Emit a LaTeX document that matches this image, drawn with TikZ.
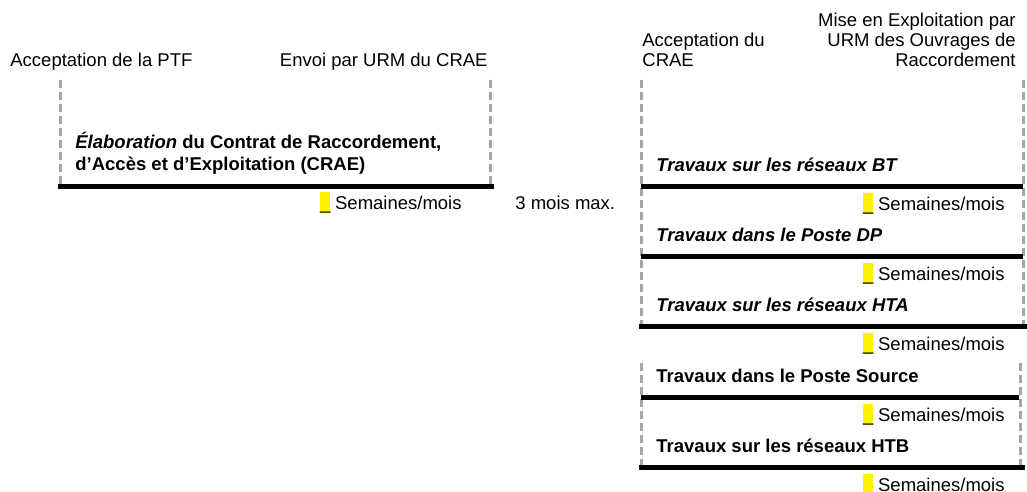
\documentclass[tikz,border=0pt]{standalone}
\usepackage{fontspec}
\setmainfont{Liberation Sans}
\usetikzlibrary{positioning}

\begin{document}
\begin{tikzpicture}[
x=0.5pt,y=-0.5pt,
every node/.style={inner sep=0pt,font=\fontsize{9.25}{10}\selectfont},
jalon/.style={draw=black!35,line width=1.5pt,dash pattern=on 4pt off 2pt},
duree/.style={line width=2.5pt},
tache/.style={anchor=base west,align=left,font=\fontsize{9.25}{11}\selectfont\bfseries},
delai/.style={anchor=base east},
surligne/.style={fill=yellow,text height=8.5pt,text depth=2pt}]
\useasboundingbox (0,0) rectangle (1027,492);

% elaboration du CRAE
\node[anchor=base west] (ptf) at (10,66.5) {Acceptation de la PTF};
\node[anchor=base east] (envoi) at (488,66.5) {Envoi par URM du CRAE};
\node[tache] (crae) at (75,170) {\textit{Élaboration} du Contrat de Raccordement,\\d’Accès et d’Exploitation (CRAE)};
\coordinate (ptfh) at (60,80);
\coordinate (ptfb) at (60,186);
\coordinate (envh) at (490,80);
\coordinate (envb) at (490,186);
\draw[jalon] (ptfh) -- (ptfb);
\draw[jalon] (envh) -- (envb);
\coordinate (craeg) at (58,186);
\coordinate (craed) at (494,186);
\draw[duree] (craeg) -- (craed);
\node[delai] (s0) at (462,209) {Semaines/mois};
\node[surligne,base left=2pt of s0] (h0) {\_};
\node[anchor=base west] (max) at (515,209) {3 mois max.};

% travaux
\node[anchor=base west,align=left] (acc) at (642,66.5) {Acceptation du\\CRAE};
\node[anchor=base east,align=right] (mes) at (1016,66.5) {Mise en Exploitation par\\URM des Ouvrages de\\Raccordement};
\coordinate (acch) at (641,80);
\coordinate (accb) at (641,326);
\coordinate (mesh) at (1023,80);
\coordinate (mesb) at (1023,326);
\coordinate (psgh) at (641,363);
\coordinate (psgb) at (641,467);
\coordinate (psdh) at (1020,363);
\coordinate (psdb) at (1020,467);
\draw[jalon] (acch) -- (accb);
\draw[jalon] (mesh) -- (mesb);
\draw[jalon] (psgh) -- (psgb);
\draw[jalon] (psdh) -- (psdb);

\foreach \y/\xa/\xb/\txt [count=\i] in {
  186/641/1023/{\itshape Travaux sur les réseaux BT},
  256/641/1023/{\itshape Travaux dans le Poste DP},
  326/639/1027/{\itshape Travaux sur les réseaux HTA},
  397/641/1019/{Travaux dans le Poste Source},
  467/639/1025/{Travaux sur les réseaux HTB}}{
  \node[tache] (t\i) at (656,\y-15) {\txt};
  \coordinate (g\i) at (\xa,\y);
  \coordinate (d\i) at (\xb,\y);
  \draw[duree] (g\i) -- (d\i);
  \node[delai] (s\i) at (1005,\y+24) {Semaines/mois};
  \node[surligne,base left=2pt of s\i] (h\i) {\_};
}
\end{tikzpicture}
\end{document}
